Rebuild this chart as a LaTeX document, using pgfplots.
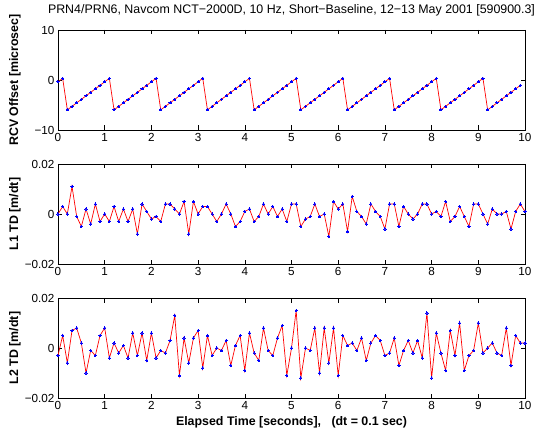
\documentclass[border=0pt]{standalone}
\usepackage{fontspec}
\setmainfont{Liberation Sans}
\usepackage{pgfplots}
\usepackage{pgfplotstable}
\pgfplotsset{compat=1.18}

\pgfplotstableread{
x y
0.0 -0.37
0.1 0.33
0.2 -5.97
0.3 -5.27
0.4 -4.57
0.5 -3.87
0.6 -3.17
0.7 -2.47
0.8 -1.77
0.9 -1.07
1.0 -0.37
1.1 0.33
1.2 -5.97
1.3 -5.27
1.4 -4.57
1.5 -3.87
1.6 -3.17
1.7 -2.47
1.8 -1.77
1.9 -1.07
2.0 -0.37
2.1 0.33
2.2 -5.97
2.3 -5.27
2.4 -4.57
2.5 -3.87
2.6 -3.17
2.7 -2.47
2.8 -1.77
2.9 -1.07
3.0 -0.37
3.1 0.33
3.2 -5.97
3.3 -5.27
3.4 -4.57
3.5 -3.87
3.6 -3.17
3.7 -2.47
3.8 -1.77
3.9 -1.07
4.0 -0.37
4.1 0.33
4.2 -5.97
4.3 -5.27
4.4 -4.57
4.5 -3.87
4.6 -3.17
4.7 -2.47
4.8 -1.77
4.9 -1.07
5.0 -0.37
5.1 0.33
5.2 -5.97
5.3 -5.27
5.4 -4.57
5.5 -3.87
5.6 -3.17
5.7 -2.47
5.8 -1.77
5.9 -1.07
6.0 -0.37
6.1 0.33
6.2 -5.97
6.3 -5.27
6.4 -4.57
6.5 -3.87
6.6 -3.17
6.7 -2.47
6.8 -1.77
6.9 -1.07
7.0 -0.37
7.1 0.33
7.2 -5.97
7.3 -5.27
7.4 -4.57
7.5 -3.87
7.6 -3.17
7.7 -2.47
7.8 -1.77
7.9 -1.07
8.0 -0.37
8.1 0.33
8.2 -5.97
8.3 -5.27
8.4 -4.57
8.5 -3.87
8.6 -3.17
8.7 -2.47
8.8 -1.77
8.9 -1.07
9.0 -0.37
9.1 0.33
9.2 -5.97
9.3 -5.27
9.4 -4.57
9.5 -3.87
9.6 -3.17
9.7 -2.47
9.8 -1.77
9.9 -1.07
}\rcvtable

\pgfplotstableread{
x l1 l2
0.0 0.000 -0.003
0.1 0.003 0.005
0.2 0.000 -0.006
0.3 0.011 0.007
0.4 -0.001 0.008
0.5 -0.005 0.002
0.6 0.002 -0.010
0.7 -0.004 -0.001
0.8 0.004 -0.003
0.9 -0.003 0.005
1.0 0.000 0.008
1.1 -0.003 -0.004
1.2 0.003 0.002
1.3 -0.003 -0.002
1.4 0.002 0.001
1.5 -0.003 -0.004
1.6 0.002 0.006
1.7 -0.008 -0.003
1.8 0.004 0.006
1.9 0.001 -0.005
2.0 -0.002 0.006
2.1 -0.001 -0.004
2.2 -0.003 -0.001
2.3 0.004 -0.002
2.4 0.004 0.003
2.5 0.002 0.013
2.6 0.000 -0.011
2.7 0.005 0.004
2.8 -0.008 -0.006
2.9 0.005 0.004
3.0 0.000 0.007
3.1 0.003 -0.008
3.2 0.003 0.005
3.3 0.000 -0.003
3.4 -0.003 0.000
3.5 0.000 -0.001
3.6 0.004 0.003
3.7 0.000 -0.007
3.8 -0.005 0.001
3.9 -0.003 0.005
4.0 0.001 -0.009
4.1 0.002 0.006
4.2 -0.003 -0.002
4.3 -0.001 -0.005
4.4 0.004 0.008
4.5 0.000 -0.001
4.6 0.003 -0.003
4.7 -0.001 0.004
4.8 0.002 0.009
4.9 -0.003 -0.011
5.0 0.004 0.000
5.1 0.004 0.015
5.2 -0.005 -0.012
5.3 -0.002 0.000
5.4 -0.001 -0.001
5.5 0.004 0.008
5.6 -0.001 -0.010
5.7 0.000 0.008
5.8 -0.009 -0.006
5.9 0.005 0.008
6.0 0.002 -0.011
6.1 0.004 0.005
6.2 -0.007 0.001
6.3 0.007 0.002
6.4 0.001 -0.001
6.5 -0.001 0.004
6.6 -0.004 -0.005
6.7 0.004 0.002
6.8 0.001 0.005
6.9 -0.001 0.003
7.0 -0.006 -0.003
7.1 0.004 -0.002
7.2 0.004 0.004
7.3 -0.005 -0.007
7.4 0.003 -0.001
7.5 0.000 0.003
7.6 -0.002 -0.002
7.7 0.000 0.003
7.8 0.004 -0.004
7.9 0.004 0.014
8.0 0.000 -0.012
8.1 0.001 0.006
8.2 -0.001 -0.002
8.3 0.005 -0.009
8.4 -0.003 0.007
8.5 -0.001 -0.003
8.6 0.003 0.010
8.7 -0.001 -0.009
8.8 -0.005 -0.003
8.9 0.004 -0.001
9.0 0.004 0.010
9.1 0.000 -0.002
9.2 -0.004 0.000
9.3 0.002 0.002
9.4 0.000 -0.002
9.5 0.000 -0.003
9.6 0.001 0.008
9.7 -0.006 -0.007
9.8 0.001 0.005
9.9 0.004 0.002
10.0 0.001 0.002
}\tdtable

\pgfplotsset{
  mlax/.style={
    scale only axis, width=467pt, height=100pt,
    xmin=0, xmax=10,
    xtick={0,1,2,3,4,5,6,7,8,9,10},
    xticklabels={0,1,2,3,4,5,6,7,8,9,10},
    scaled x ticks=false, scaled y ticks=false,
    tick align=inside, major tick length=4.5pt,
    axis line style={line width=0.9pt, black},
    tick style={line width=0.6pt, black},
    tick label style={font=\fontsize{11.7}{13}\selectfont},
    label style={font=\bfseries\fontsize{12.4}{14}\selectfont},
    ylabel style={at={(axis description cs:-0.092,0.5)}, anchor=center},
    clip=false,
  },
  mlline/.style={red, line width=0.7pt, mark=*, mark size=1.1pt,
    mark options={blue, fill=blue, draw=blue, line width=0pt}},
}

\begin{document}
\begin{tikzpicture}
\path[use as bounding box] (0pt,0pt) rectangle (539pt,432pt);

\begin{axis}[mlax, at={(58pt,302pt)}, anchor=south west,
  ymin=-10, ymax=10, ytick={-10,0,10}, yticklabels={−10,0,10},
  ylabel={RCV Offset [microsec]},
  title={PRN4/PRN6, Navcom NCT−2000D, 10 Hz, Short−Baseline, 12−13 May 2001 [590900.3]},
  title style={at={(axis description cs:0.5,1)}, anchor=base, yshift=10pt, font=\fontsize{12.4}{14}\selectfont}]
\addplot[mlline] table[x=x, y=y] {\rcvtable};
\end{axis}

\begin{axis}[mlax, at={(58pt,168pt)}, anchor=south west,
  ymin=-0.02, ymax=0.02, ytick={-0.02,0,0.02}, yticklabels={−0.02,0,0.02},
  ylabel={L1 TD [m/dt]}]
\addplot[mlline] table[x=x, y=l1] {\tdtable};
\end{axis}

\begin{axis}[mlax, at={(58pt,34pt)}, anchor=south west,
  ymin=-0.02, ymax=0.02, ytick={-0.02,0,0.02}, yticklabels={−0.02,0,0.02},
  ylabel={L2 TD [m/dt]},
  xlabel={Elapsed Time [seconds],\ \ \ (dt = 0.1 sec)},
  xlabel style={at={(axis description cs:0.5,0)}, anchor=base, yshift=-27pt}]
\addplot[mlline] table[x=x, y=l2] {\tdtable};
\end{axis}
\end{tikzpicture}
\end{document}
